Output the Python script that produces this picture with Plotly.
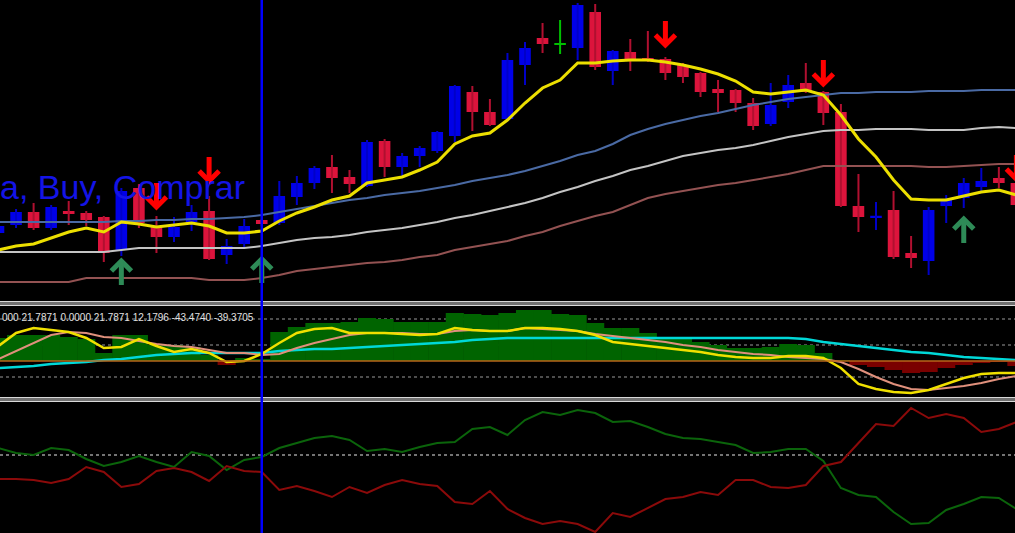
import plotly.graph_objects as go

# ---------------- data (candle index 0..58) ----------------
opens  = [67,75,88,72,89,87,83,50,112,73, 63,78,89,45,56,80,77,103,117,133,
          123,114,159,133,144,149,164,208,188,181, 235,262,256,252,288,229,248,242,241,235,
          227,211,210,197,176,198,217,208,188,94, 83,90,47,39,94,102,113,122,117]
highs  = [77,91,97,95,99,89,84,112,116,84, 83,95,104,61,81,81,119,124,134,145,
          130,160,161,147,154,169,215,214,201,247, 258,277,280,297,296,250,261,269,243,237,
          228,220,211,202,217,225,237,209,196,126, 98,109,64,93,105,122,132,133,128]
lows   = [65,72,70,70,75,74,38,44,72,47, 58,69,40,36,52,74,75,95,111,107,
          107,113,123,123,133,147,158,169,174,179, 215,247,246,240,230,215,229,238,220,217,
          203,188,188,170,174,192,207,175,93,68, 70,41,32,25,77,92,108,112,93]
closes = [74,88,72,93,86,80,47,109,77,63, 73,88,41,54,74,76,104,117,132,122,
          116,158,133,144,152,168,214,188,175,240, 252,256,256,295,233,249,240,239,227,223,
          208,207,197,174,195,215,208,187,94,83, 84,43,42,90,100,117,119,117,95]

ma_fast = [50,54,56,62,68,72,68,78,76,73, 75,77,74,67,67,69,79,87,93,100,
           104,117,120,123,130,138,156,164,167,180, 197,212,220,237,237,239,240,240,238,235,
           231,226,219,208,206,208,210,205,185,161, 143,120,101,100,100,104,108,110,105]
ma_blue = [78,78,78,78,78,78,78,79,79,80, 80,81,81,82,83,85,88,91,94,97,
           100,102,105,107,109,112,115,119,122,125, 129,134,139,145,149,156,165,171,176,180,
           184,187,191,195,198,201,203,205,207,207, 208,208,208,209,209,209,210,210,210]
ma_white = [48,48,48,48,48,48,48,50,52,52, 52,52,52,52,52,54,57,60,62,63,
            65,68,70,72,75,78,82,85,89,93, 97,102,108,113,119,124,130,134,139,144,
            147,150,152,155,159,163,166,169,170,170, 171,171,171,170,170,170,172,173,172]
ma_brown = [18,18,18,18,18,22,22,22,22,22, 22,22,20,20,20,22,25,29,31,33,
            35,37,38,40,43,45,50,53,56,59, 64,68,74,79,84,88,95,102,106,109,
            112,115,117,120,123,126,130,134,134,134, 134,134,134,133,133,134,135,136,136]

# arrow tips (price units)
buy_idx = [7, 15, 55]
buy_tip = [40, 42, 82]
sell_idx = [9, 12, 38, 47, 58]
sell_tip = [92, 118, 254, 215, 120]

osc_hist = [23,26,26,26,24,22,8,26,26,16, 16,14,6,-4,3,2,29,34,38,38,
            39,43,42,39,39,39,48,47,46,48, 51,51,47,46,38,33,33,28,24,23,
            19,16,13,13,14,17,16,8,1,-4, -6,-9,-12,-11,-7,-4,-2,-1,-5]
osc_fast = [15,28,33,31,29,23,13,14,22,15, 9,12,8,-1,0,7,18,28,32,33,
            28,28,28,27,26,27,33,31,30,30, 33,33,32,30,26,19,17,15,13,11,
            9,6,4,3,3,5,5,3,-7,-23, -28,-31,-32,-29,-23,-17,-13,-12,-12]
osc_slow = [2,10,18,26,29,28,24,23,20,17, 15,14,11,8,8,6,7,13,18,22,
            26,28,28,28,27,27,30,31,30,30, 33,32,31,30,27,25,23,21,19,16,
            14,11,9,7,6,4,3,2,-1,-8, -16,-23,-28,-29,-27,-25,-22,-18,-15]
osc_trend = [-7,-6,-5,-3,-2,-1,1,2,4,6, 7,8,8,8,8,8,10,11,12,12,
             13,14,15,16,17,18,19,21,22,23, 23,23,23,23,23,23,23,23,23,23,
             23,23,23,23,23,23,22,19,17,15, 13,11,9,8,6,4,3,2,1]
osc_levels = [42, 16, -16]
osc_label = "000 21.7871 0.0000 21.7871 12.1796 -43.4740 -39.3705"

di_plus = [7,2,0,7,5,-4,-11,-7,-1,-7, -12,3,-1,-15,-5,-2,7,12,17,19,
           15,4,6,3,8,12,13,26,28,20, 35,43,40,45,42,33,34,28,21,17,
           16,13,10,2,3,6,6,-6,-33,-40, -42,-57,-69,-68,-55,-49,-42,-43,-54]
di_minus = [-24,-24,-25,-28,-24,-12,-17,-32,-29,-16, -13,-17,-26,-11,-16,-17,-35,-31,-36,-42,
            -32,-38,-30,-25,-29,-31,-47,-49,-36,-54, -63,-69,-66,-69,-77,-58,-62,-53,-44,-42,
            -37,-40,-25,-25,-32,-33,-30,-11,-7,12, 31,29,47,37,41,37,23,26,33]
di_levels = [0]

vline_index = 15
signal_text = "a, Buy, Comprar"

# ---------------- styling ----------------
W, H = 1015, 533
UP, DN, DOJI = "#0000e8", "#dc143c", "#00c000"
UPW, DNW = "#0000c8", "#b01030"
PX_X = 17.55          # pixels per candle
PX_Y = 300 / 300      # pixels per price unit (top panel)

idx = list(range(len(opens)))
def py(px):
    return 1 - px / H

fig = go.Figure()

# wicks
for col, cond in [(UPW, lambda o, c: c > o), (DNW, lambda o, c: c < o), (DOJI, lambda o, c: c == o)]:
    xs, ys = [], []
    for i in idx:
        if cond(opens[i], closes[i]):
            xs += [i, i, None]
            ys += [lows[i], highs[i], None]
    fig.add_trace(go.Scatter(x=xs, y=ys, mode="lines", line=dict(color=col, width=2),
                             hoverinfo="skip", xaxis="x", yaxis="y"))

# bodies
base, length, cols = [], [], []
for o, c in zip(opens, closes):
    lo, d = min(o, c), abs(c - o)
    if d < 1.5:
        lo -= (1.5 - d) / 2
        d = 1.5
    base.append(lo)
    length.append(d)
    cols.append(UP if c > o else (DN if c < o else DOJI))
fig.add_trace(go.Bar(x=idx, y=length, base=base, width=0.66, marker=dict(color=cols, line=dict(width=0)),
                     hoverinfo="skip", xaxis="x", yaxis="y"))

# moving averages
for vals, col, w in [(ma_brown, "#935252", 2), (ma_white, "#c4c4c4", 2),
                     (ma_blue, "#4a6aa4", 2), (ma_fast, "#ecdf00", 3)]:
    fig.add_trace(go.Scatter(x=idx, y=vals, mode="lines", line=dict(color=col, width=w),
                             hoverinfo="skip", xaxis="x", yaxis="y"))

# signal arrows: glyph template (pixels, relative to tip; +y = away from tip)
glyph = [(-10, 11), (0, 1), (10, 11), None, (0, 2), (0, 25)]
def arrow_path(ks, tips, direction):
    xs, ys = [], []
    for k, t in zip(ks, tips):
        for pt in glyph + [None]:
            if pt is None:
                xs.append(None); ys.append(None)
            else:
                xs.append(k + pt[0] / PX_X)
                ys.append(t + direction * pt[1] / PX_Y)
    return xs, ys
bx, by = arrow_path(buy_idx, buy_tip, -1)
sx, sy = arrow_path(sell_idx, sell_tip, +1)
fig.add_trace(go.Scatter(x=bx, y=by, mode="lines", line=dict(color="#2e8b57", width=5),
                         hoverinfo="skip", xaxis="x", yaxis="y"))
fig.add_trace(go.Scatter(x=sx, y=sy, mode="lines", line=dict(color="#ff0000", width=5),
                         hoverinfo="skip", xaxis="x", yaxis="y"))

# oscillator panel
fig.add_trace(go.Bar(x=idx, y=osc_hist, width=1.03,
                     marker=dict(color=["#006400" if v >= 0 else "#7a0000" for v in osc_hist], line=dict(width=0)),
                     hoverinfo="skip", xaxis="x2", yaxis="y2"))
for vals, col, w in [(osc_trend, "#00d8d8", 2.5), (osc_slow, "#e0907c", 2), (osc_fast, "#f0e000", 2.5)]:
    fig.add_trace(go.Scatter(x=idx, y=vals, mode="lines", line=dict(color=col, width=w),
                             hoverinfo="skip", xaxis="x2", yaxis="y2"))

# DMI panel
fig.add_trace(go.Scatter(x=idx, y=di_plus, mode="lines", line=dict(color="#0b640b", width=2),
                         hoverinfo="skip", xaxis="x3", yaxis="y3"))
fig.add_trace(go.Scatter(x=idx, y=di_minus, mode="lines", line=dict(color="#8b0a0a", width=2),
                         hoverinfo="skip", xaxis="x3", yaxis="y3"))

shapes = []
for lv in osc_levels:
    shapes.append(dict(type="line", xref="paper", x0=0, x1=1, yref="y2", y0=lv, y1=lv,
                       line=dict(color="#9a9a9a", width=1.2, dash="dot"), layer="below"))
shapes.append(dict(type="line", xref="paper", x0=0, x1=1, yref="y2", y0=0, y1=0,
                   line=dict(color="#b8651a", width=1.5), layer="above"))
for lv in di_levels:
    shapes.append(dict(type="line", xref="paper", x0=0, x1=1, yref="y3", y0=lv, y1=lv,
                       line=dict(color="#9a9a9a", width=1.5, dash="dot"), layer="below"))
# panel separators
for top_px in (301.5, 397.5):
    shapes.append(dict(type="rect", xref="paper", x0=-0.01, x1=1.01, yref="paper",
                       y0=py(top_px + 4), y1=py(top_px), fillcolor="#707070",
                       line=dict(color="#d8d8d8", width=1), layer="above"))
shapes.append(dict(type="line", xref="x", x0=vline_index, x1=vline_index, yref="paper", y0=0, y1=1,
                   line=dict(color="#0000ff", width=2.5), layer="above"))

annotations = [
    dict(text=signal_text, xref="paper", yref="paper", x=-0.002, y=py(187), xanchor="left", yanchor="middle",
         showarrow=False, font=dict(family="Liberation Sans, Arial", size=34, color="#1414e6")),
    dict(text=osc_label, xref="paper", yref="paper", x=0, y=py(317), xanchor="left", yanchor="middle",
         showarrow=False, font=dict(family="Liberation Sans, Arial", size=10, color="#e0e0e0")),
]

x_lo = 1.5 / PX_X
x_hi = (W + 1.5) / PX_X
ax = dict(visible=False, range=[x_lo, x_hi], fixedrange=True)
fig.update_layout(
    width=W, height=H, margin=dict(l=0, r=0, t=0, b=0),
    paper_bgcolor="#000000", plot_bgcolor="#000000", showlegend=False,
    barmode="overlay",
    xaxis=dict(ax, domain=[0, 1], anchor="y"),
    xaxis2=dict(ax, domain=[0, 1], anchor="y2"),
    xaxis3=dict(ax, domain=[0, 1], anchor="y3"),
    yaxis=dict(visible=False, domain=[py(300), 1], range=[0, 300], fixedrange=True),
    yaxis2=dict(visible=False, domain=[py(398), py(306)], range=[-37, 55], fixedrange=True),
    yaxis3=dict(visible=False, domain=[0, py(402)], range=[-78, 53], fixedrange=True),
    shapes=shapes, annotations=annotations,
)

fig.write_html("out.html", config={"displayModeBar": False},
               post_script="document.body.style.margin='0px';document.body.style.backgroundColor='#000000';"
                           "document.body.style.overflow='hidden';")
